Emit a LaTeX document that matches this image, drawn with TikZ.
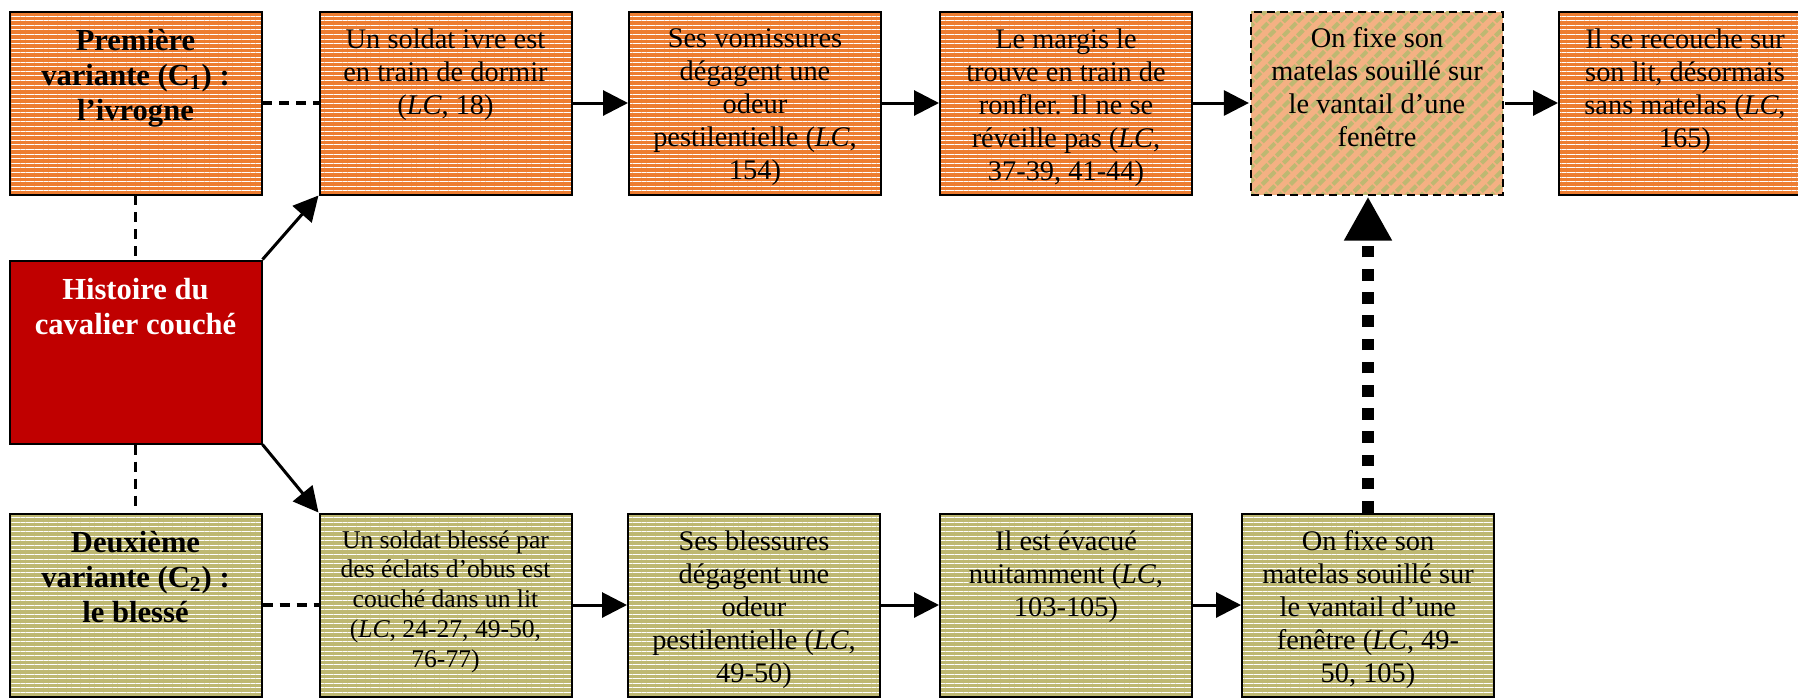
\documentclass[tikz,border=0pt]{standalone}
\usepackage{fontspec}
\setmainfont{Liberation Serif}
\usepackage{tikz}
\usetikzlibrary{arrows.meta,patterns.meta,positioning}

\definecolor{orangeC}{RGB}{237,125,49}
\definecolor{oliveC}{RGB}{190,184,114}
\definecolor{saumonC}{RGB}{244,177,131}
\definecolor{rougeC}{RGB}{192,0,0}

\tikzset{
	cell/.style={draw, line width=1pt, minimum width=126pt, minimum height=91.5pt, inner sep=0pt},
	ivre/.style={cell, preaction={fill=orangeC}, pattern={Lines[angle=0,distance=2.3pt,line width=0.5pt]}, pattern color=white},
	blesse/.style={cell, preaction={fill=oliveC}, pattern={Lines[angle=0,distance=2.3pt,line width=0.5pt]}, pattern color=white},
	mixte/.style={cell, dash pattern=on 4pt off 2.5pt, preaction={fill=saumonC}, pattern={Lines[angle=45,distance=5pt,line width=2.1pt]}, pattern color=oliveC},
	txt/.style={align=center, inner sep=0pt, font=\fontsize{14.2}{16.5}\selectfont},
	petit/.style={align=center, inner sep=0pt, font=\fontsize{12.8}{14.9}\selectfont},
	titre/.style={align=center, inner sep=0pt, font=\fontsize{15.3}{17.5}\selectfont\bfseries},
	fleche/.style={-{Triangle[length=12.5pt,width=12.5pt]}, line width=1.5pt},
	lien/.style={line width=1.6pt, dash pattern=on 5pt off 3.5pt},
}

\begin{document}
\begin{tikzpicture}[x=0.5pt, y=-0.5pt]
	
	\useasboundingbox (0,0) rectangle (1798,697);
	\clip (0,0) rectangle (1798,697);
	
	% premiere variante
	\node[ivre] (var1) at (135.5,103) {};
	\node[ivre] (dort) at (445.5,103) {};
	\node[ivre] (vomi) at (755,103) {};
	\node[ivre] (ronfle) at (1066,103) {};
	\node[mixte] (fixeA) at (1377,103) {};
	\node[ivre] (recouche) at (1685,103) {};
	
	\node[cell, fill=rougeC] (hist) at (135.5,352) {};
	
	% deuxieme variante
	\node[blesse] (var2) at (135.5,605) {};
	\node[blesse] (lit) at (445.5,605) {};
	\node[blesse] (blessure) at (754,605) {};
	\node[blesse] (evacue) at (1066,605) {};
	\node[blesse] (fixeB) at (1368,605) {};
	
	\node[titre, below=9pt of var1.north] (t-var1) {Première\\variante (C\textsubscript{1}) :\\l’ivrogne};
	\node[txt, below=8.7pt of dort.north] (t-dort) {Un soldat ivre est\\en train de dormir\\(\textit{LC}, 18)};
	\node[txt, below=8.7pt of vomi.north] (t-vomi) {Ses vomissures\\dégagent une\\odeur\\pestilentielle (\textit{LC},\\154)};
	\node[txt, below=8.7pt of ronfle.north] (t-ronfle) {Le margis le\\trouve en train de\\ronfler. Il ne se\\réveille pas (\textit{LC},\\37-39, 41-44)};
	\node[txt, below=8.7pt of fixeA.north] (t-fixeA) {On fixe son\\matelas souillé sur\\le vantail d’une\\fenêtre};
	\node[txt, below=8.7pt of recouche.north] (t-recouche) {Il se recouche sur\\son lit, désormais\\sans matelas (\textit{LC},\\165)};
	
	\node[titre, text=white, below=9pt of hist.north] (t-hist) {Histoire du\\cavalier couché};
	
	\node[titre, below=9pt of var2.north] (t-var2) {Deuxième\\variante (C\textsubscript{2}) :\\le blessé};
	\node[petit, below=8.7pt of lit.north] (t-lit) {Un soldat blessé par\\des éclats d’obus est\\couché dans un lit\\(\textit{LC}, 24-27, 49-50,\\76-77)};
	\node[txt, below=8.7pt of blessure.north] (t-blessure) {Ses blessures\\dégagent une\\odeur\\pestilentielle (\textit{LC},\\49-50)};
	\node[txt, below=8.7pt of evacue.north] (t-evacue) {Il est évacué\\nuitamment (\textit{LC},\\103-105)};
	\node[txt, below=8.7pt of fixeB.north] (t-fixeB) {On fixe son\\matelas souillé sur\\le vantail d’une\\fenêtre (\textit{LC}, 49-\\50, 105)};
	
	\draw[lien] (var1.south) -- (hist.north);
	\draw[lien] (hist.south) -- (var2.north);
	\draw[lien] (var1.east) -- (dort.west);
	\draw[lien] (var2.east) -- (lit.west);
	
	\draw[fleche] (hist.north east) -- (dort.south west);
	\draw[fleche] (hist.south east) -- (lit.north west);
	
	\draw[fleche] (dort.east) -- (vomi.west);
	\draw[fleche] (vomi.east) -- (ronfle.west);
	\draw[fleche] (ronfle.east) -- (fixeA.west);
	\draw[fleche] (fixeA.east) -- (recouche.west);
	
	\draw[fleche] (lit.east) -- (blessure.west);
	\draw[fleche] (blessure.east) -- (evacue.west);
	\draw[fleche] (evacue.east) -- (fixeB.west);
	
	\draw[line width=6pt, dash pattern=on 5.8pt off 5.8pt, -{Triangle[length=22pt,width=22.5pt]}] (fixeB.north) -- (fixeB.north |- fixeA.south);
	
\end{tikzpicture}
\end{document}
